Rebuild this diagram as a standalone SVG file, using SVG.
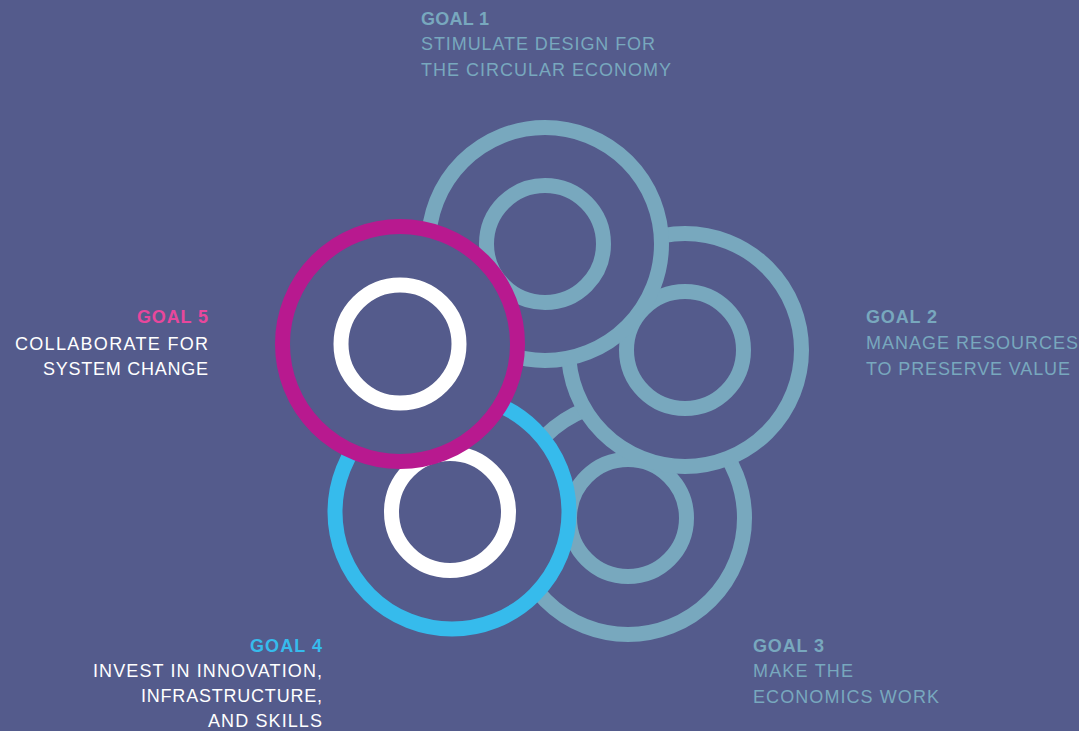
<svg xmlns="http://www.w3.org/2000/svg" width="1079" height="731" viewBox="0 0 1079 731">
<style>
.ring{fill:#545B8C;stroke-width:15}
.teal{stroke:#78A8BE}
.inner{fill:none;stroke-width:15}
.t{font-family:"Liberation Sans",Arial,sans-serif;font-size:18px}
.b{font-weight:bold}
.tealt{fill:#78A8BE}
.white{fill:#FFFFFF}
</style>
<rect width="1079" height="731" fill="#545B8C"/>
<g id="goal3">
<circle class="ring teal" cx="628" cy="518" r="116.5"/>
<circle class="inner teal" cx="628" cy="518" r="58.5"/>
</g>
<g id="goal2">
<circle class="ring teal" cx="685" cy="350" r="116.5"/>
<circle class="inner teal" cx="685" cy="350" r="58.5"/>
</g>
<g id="goal1">
<circle class="ring teal" cx="545" cy="244" r="116.5"/>
<circle class="inner teal" cx="545" cy="244" r="58.5"/>
</g>
<g id="goal4">
<circle class="ring" stroke="#36BBEC" cx="452" cy="512" r="117"/>
<circle class="inner" stroke="#FFFFFF" cx="450" cy="512" r="58.5"/>
</g>
<g id="goal5">
<circle class="ring" stroke="#B8198F" cx="400" cy="344" r="117.5"/>
<circle class="inner" stroke="#FFFFFF" cx="400" cy="344" r="59"/>
</g>
<g id="connectors"></g>
<g id="label1" class="t tealt">
<text class="b" x="421" y="25" textLength="68" lengthAdjust="spacing">GOAL 1</text>
<text x="421" y="50" textLength="234" lengthAdjust="spacing">STIMULATE DESIGN FOR</text>
<text x="421" y="76" textLength="250" lengthAdjust="spacing">THE CIRCULAR ECONOMY</text>
</g>
<g id="label2" class="t tealt">
<text class="b" x="866" y="323" textLength="71" lengthAdjust="spacing">GOAL 2</text>
<text x="866" y="349" textLength="212" lengthAdjust="spacing">MANAGE RESOURCES</text>
<text x="866" y="375" textLength="204" lengthAdjust="spacing">TO PRESERVE VALUE</text>
</g>
<g id="label3" class="t tealt">
<text class="b" x="753" y="652" textLength="71" lengthAdjust="spacing">GOAL 3</text>
<text x="753" y="677" textLength="100" lengthAdjust="spacing">MAKE THE</text>
<text x="753" y="703" textLength="186" lengthAdjust="spacing">ECONOMICS WORK</text>
</g>
<g id="label4" class="t white" text-anchor="end">
<text class="b" x="322" y="652" fill="#36BBEC" textLength="72" lengthAdjust="spacing">GOAL 4</text>
<text x="322" y="677" textLength="229" lengthAdjust="spacing">INVEST IN INNOVATION,</text>
<text x="322" y="702" textLength="181" lengthAdjust="spacing">INFRASTRUCTURE,</text>
<text x="322" y="727" textLength="114" lengthAdjust="spacing">AND SKILLS</text>
</g>
<g id="label5" class="t white" text-anchor="end">
<text class="b" x="208" y="323" fill="#E8479C" textLength="71" lengthAdjust="spacing">GOAL 5</text>
<text x="208" y="350" textLength="193" lengthAdjust="spacing">COLLABORATE FOR</text>
<text x="208" y="375" textLength="165" lengthAdjust="spacing">SYSTEM CHANGE</text>
</g>
</svg>
